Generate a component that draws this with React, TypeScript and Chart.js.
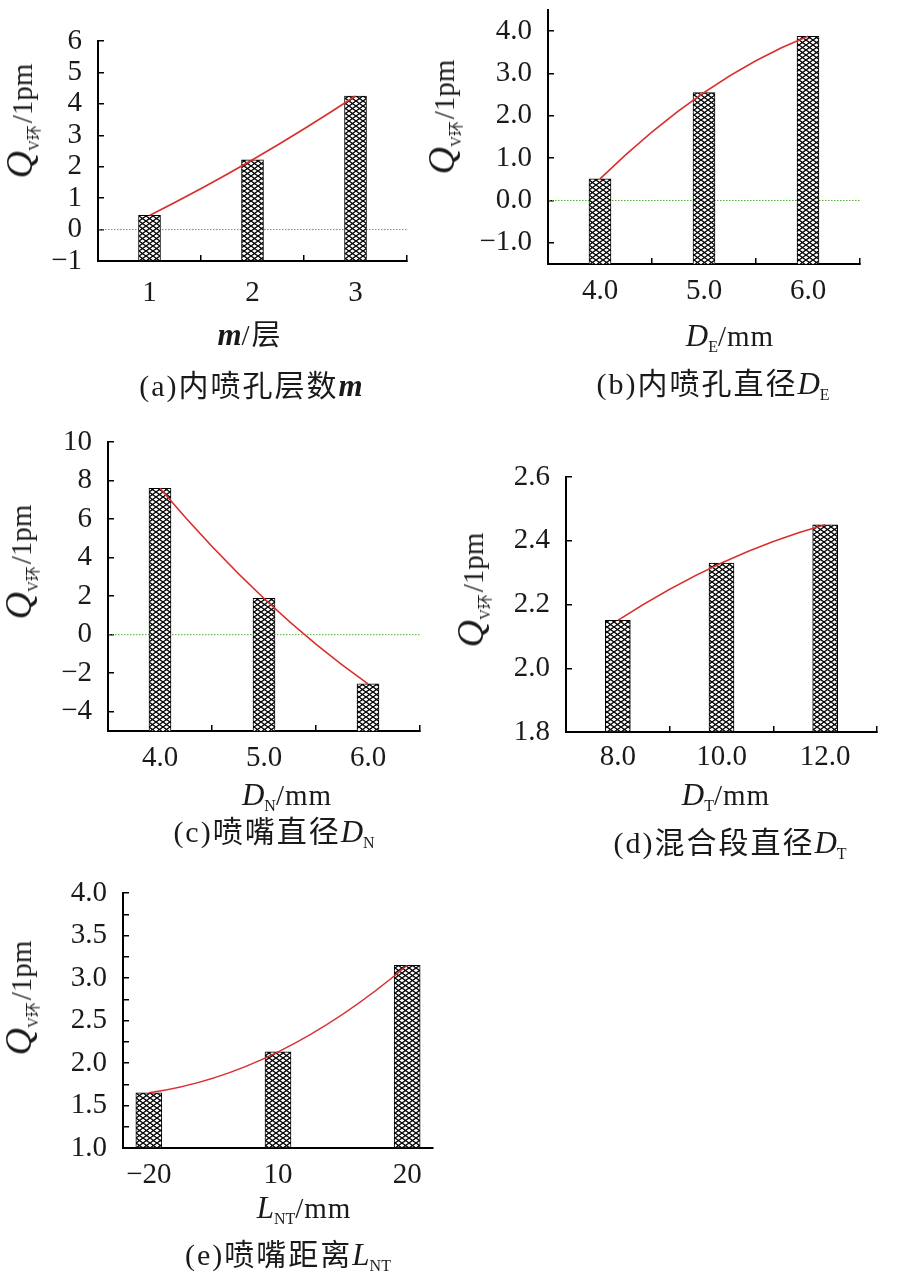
import React, { useEffect, useRef } from 'react';
import { Chart, registerables } from 'chart.js';

Chart.register(...registerables);

// ---------- data ----------
const aCategories = ['1', '2', '3'];
const aValues = [0.45, 2.22, 4.25];
const aTicks = [-1, 0, 1, 2, 3, 4, 5, 6];

const bCategories = ['4.0', '5.0', '6.0'];
const bValues = [0.51, 2.55, 3.88];
const bTicks = [-1, 0, 1, 2, 3, 4];

const cCategories = ['4.0', '5.0', '6.0'];
const cValues = [7.6, 1.88, -2.55];
const cTicks = [-4, -2, 0, 2, 4, 6, 8, 10];

const dCategories = ['8.0', '10.0', '12.0'];
const dValues = [2.15, 2.33, 2.45];
const dTicks = [1.8, 2.0, 2.2, 2.4, 2.6];

const eCategories = ['−20', '10', '20'];
const eValues = [1.65, 2.13, 3.15];
const eTicks = [1.0, 1.25, 1.5, 1.75, 2.0, 2.25, 2.5, 2.75, 3.0, 3.25, 3.5, 3.75, 4.0];
const eLabelledTicks = [1.0, 1.5, 2.0, 2.5, 3.0, 3.5, 4.0];

// ---------- layout constants ----------
const YW = 85;
const PT = 45;
const PR = 45;
const XH = 60;
const FS = 29;
const SERIF = "'Liberation Serif', 'Times New Roman', serif";
const MIX = "'Liberation Serif', 'Noto Sans CJK SC', serif";
const TXT = '#1a1a1a';

type Box = { l: number; r: number; t: number; b: number };
type Spec = {
  labels: string[];
  values: number[];
  ticks: number[];
  labelled: number[];
  min: number;
  max: number;
  decimals: number;
  box: Box;
  barThickness: number;
  xPad: number;
  zero: boolean;
  linearX?: { min: number; max: number };
};

const specs: Spec[] = [
  { labels: aCategories, values: aValues, ticks: aTicks, labelled: aTicks, min: -1, max: 6, decimals: 0,
    box: { l: 98, r: 407, t: 41, b: 261 }, barThickness: 22, xPad: 21, zero: true },
  { labels: bCategories, values: bValues, ticks: bTicks, labelled: bTicks, min: -1.5, max: 4.5, decimals: 1,
    box: { l: 548, r: 860, t: 10, b: 264 }, barThickness: 22, xPad: 16, zero: true },
  { labels: cCategories, values: cValues, ticks: cTicks, labelled: cTicks, min: -5, max: 10, decimals: 0,
    box: { l: 108, r: 420, t: 442, b: 731 }, barThickness: 22, xPad: 16, zero: true },
  { labels: dCategories, values: dValues, ticks: dTicks, labelled: dTicks, min: 1.8, max: 2.6, decimals: 1,
    box: { l: 566, r: 877, t: 477, b: 732 }, barThickness: 25, xPad: 14, zero: false },
  { labels: eCategories, values: eValues, ticks: eTicks, labelled: eLabelledTicks, min: 1.0, max: 4.0, decimals: 1,
    box: { l: 123, r: 433, t: 893, b: 1148 }, barThickness: 26, xPad: 16, zero: false,
    linearX: { min: -0.2, max: 2.2 } },
];

function fmt(v: number, d: number) {
  return v.toFixed(d).replace('-', '−');
}

function makePattern(): CanvasPattern | string {
  const w = 7;
  const h = 5;
  const c = document.createElement('canvas');
  c.width = w;
  c.height = h;
  const g = c.getContext('2d');
  if (!g) return '#777';
  g.fillStyle = '#fff';
  g.fillRect(0, 0, w, h);
  g.strokeStyle = '#000';
  g.lineWidth = 1.3;
  g.beginPath();
  g.moveTo(0, 0);
  g.lineTo(w, h);
  g.moveTo(0, h);
  g.lineTo(w, 0);
  g.stroke();
  return g.createPattern(c, 'repeat') || '#777';
}

const zeroLinePlugin = {
  id: 'zeroLine',
  beforeDatasetsDraw(chart: any, _args: any, opts: any) {
    if (!opts || !opts.show) return;
    const y = chart.scales.y.getPixelForValue(0);
    const { left, right } = chart.chartArea;
    const ctx = chart.ctx;
    ctx.save();
    ctx.strokeStyle = '#4fae3c';
    ctx.lineWidth = 1;
    ctx.setLineDash([1.5, 1.5]);
    ctx.beginPath();
    ctx.moveTo(left + 1, y);
    ctx.lineTo(right, y);
    ctx.stroke();
    ctx.restore();
  },
};

// Smooth quadratic trend curve through the line dataset's points (positions from the library's scales)
const trendPlugin = {
  id: 'trend',
  afterDatasetsDraw(chart: any) {
    const meta = chart.getDatasetMeta(0);
    const pts = meta.data;
    if (!pts || pts.length < 3) return;
    const p0 = pts[0];
    const p1 = pts[1];
    const p2 = pts[2];
    const cx = 2 * p1.x - (p0.x + p2.x) / 2;
    const cy = 2 * p1.y - (p0.y + p2.y) / 2;
    const ctx = chart.ctx;
    ctx.save();
    ctx.strokeStyle = '#d8302c';
    ctx.lineWidth = 1.6;
    ctx.beginPath();
    ctx.moveTo(p0.x, p0.y);
    ctx.quadraticCurveTo(cx, cy, p2.x, p2.y);
    ctx.stroke();
    ctx.restore();
  },
};

function buildConfig(s: Spec, pattern: any): any {
  const linear = !!s.linearX;
  const pts: any = linear ? s.values.map((v, i) => ({ x: i, y: v })) : s.values;
  const tickFont = { family: SERIF, size: FS };
  const axisGrid = {
    display: true,
    offset: !linear,
    drawOnChartArea: false,
    drawTicks: true,
    tickLength: -6,
    color: linear ? 'rgba(0,0,0,0)' : '#000',
    lineWidth: 1.5,
  };
  const border = { display: true, color: '#000', width: 2 };
  const x: any = linear
    ? {
        type: 'linear',
        min: s.linearX!.min,
        max: s.linearX!.max,
        offset: false,
        afterBuildTicks: (sc: any) => {
          sc.ticks = s.labels.map((_, i) => ({ value: i }));
        },
        ticks: {
          callback: (v: any) => s.labels[Math.round(v)] ?? '',
          padding: s.xPad,
          font: tickFont,
          color: TXT,
          maxRotation: 0,
          autoSkip: false,
        },
        grid: axisGrid,
        border,
        afterFit: (sc: any) => {
          sc.height = XH;
        },
      }
    : {
        type: 'category',
        offset: true,
        ticks: { padding: s.xPad, font: tickFont, color: TXT, maxRotation: 0, autoSkip: false },
        grid: axisGrid,
        border,
        afterFit: (sc: any) => {
          sc.height = XH;
        },
      };
  return {
    type: 'bar',
    data: {
      labels: linear ? undefined : s.labels,
      datasets: [
        {
          type: 'line',
          data: pts,
          borderColor: '#d8302c',
          borderWidth: 1.6,
          pointRadius: 0,
          showLine: false,
          fill: false,
          order: 0,
        },
        {
          type: 'bar',
          data: pts,
          backgroundColor: pattern,
          borderColor: '#000',
          borderWidth: 1,
          barThickness: s.barThickness,
          base: s.min,
          order: 1,
        },
      ],
    },
    options: {
      responsive: false,
      animation: false,
      layout: { padding: { top: PT, right: PR, left: 0, bottom: 0 } },
      plugins: {
        legend: { display: false },
        tooltip: { enabled: false },
        zeroLine: { show: s.zero },
      },
      scales: {
        x,
        y: {
          type: 'linear',
          min: s.min,
          max: s.max,
          afterBuildTicks: (sc: any) => {
            sc.ticks = s.ticks.map((v) => ({ value: v }));
          },
          ticks: {
            callback: (v: any) =>
              s.labelled.some((t) => Math.abs(t - v) < 1e-9) ? fmt(v, s.decimals) : '',
            padding: 22,
            font: tickFont,
            color: TXT,
            autoSkip: false,
          },
          grid: {
            display: true,
            drawOnChartArea: false,
            drawTicks: true,
            tickLength: -6,
            color: '#000',
            lineWidth: 1.5,
          },
          border,
          afterFit: (sc: any) => {
            sc.width = YW;
          },
        },
      },
    },
    plugins: [zeroLinePlugin, trendPlugin],
  };
}

function Panel({ spec }: { spec: Spec }) {
  const ref = useRef<HTMLCanvasElement>(null);
  const { l, r, t, b } = spec.box;
  const w = YW + (r - l) + PR;
  const h = PT + (b - t) + XH;
  useEffect(() => {
    if (!ref.current) return;
    const chart = new Chart(ref.current, buildConfig(spec, makePattern()));
    return () => chart.destroy();
  }, []);
  return (
    <canvas
      ref={ref}
      width={w}
      height={h}
      style={{ position: 'absolute', left: l - YW, top: t - PT, width: w, height: h }}
    />
  );
}

function YTitle({ x, y }: { x: number; y: number }) {
  return (
    <div
      style={{
        position: 'absolute',
        left: x,
        top: y,
        transform: 'translate(-50%,-50%) rotate(-90deg)',
        whiteSpace: 'nowrap',
        fontFamily: MIX,
        fontSize: 29,
        lineHeight: '36px',
        color: TXT,
      }}
    >
      <span style={{ fontStyle: 'italic', fontSize: 38 }}>Q</span>
      <span style={{ fontSize: 15, position: 'relative', top: 7 }}>V环</span>
      <span style={{ marginLeft: 2 }}>/1pm</span>
    </div>
  );
}

function Centered({ x, y, children, size, spacing }: { x: number; y: number; children: any; size: number; spacing?: number }) {
  return (
    <div
      style={{
        position: 'absolute',
        left: x,
        top: y,
        transform: 'translate(-50%,-50%)',
        whiteSpace: 'nowrap',
        fontFamily: MIX,
        fontSize: size,
        lineHeight: '36px',
        letterSpacing: spacing ? spacing : 0,
        color: TXT,
      }}
    >
      {children}
    </div>
  );
}

function Sym({ main, sub, bold }: { main: string; sub?: string; bold?: boolean }) {
  return (
    <>
      <span style={{ fontStyle: 'italic', fontWeight: bold ? 'bold' : 'normal', fontSize: 31, letterSpacing: 0 }}>{main}</span>
      {sub ? <span style={{ fontSize: 16, position: 'relative', top: 6, letterSpacing: 0 }}>{sub}</span> : null}
    </>
  );
}

export default function App() {
  return (
    <div
      style={{
        position: 'absolute',
        left: 0,
        top: 0,
        width: 899,
        height: 1283,
        background: '#fff',
        overflow: 'hidden',
      }}
    >
      {specs.map((s, i) => (
        <Panel key={i} spec={s} />
      ))}

      <YTitle x={23} y={121} />
      <YTitle x={445} y={117} />
      <YTitle x={22} y={562} />
      <YTitle x={474} y={590} />
      <YTitle x={22} y={998} />

      <Centered x={250} y={335} size={29} spacing={2}>
        <Sym main="m" bold />/层
      </Centered>
      <Centered x={730} y={338} size={29} spacing={1}>
        <Sym main="D" sub="E" />/mm
      </Centered>
      <Centered x={287} y={797} size={29} spacing={1}>
        <Sym main="D" sub="N" />/mm
      </Centered>
      <Centered x={726} y={797} size={29} spacing={1}>
        <Sym main="D" sub="T" />/mm
      </Centered>
      <Centered x={304} y={1210} size={29} spacing={1}>
        <Sym main="L" sub="NT" />/mm
      </Centered>

      <Centered x={251} y={386} size={30} spacing={2}>
        (a)内喷孔层数<Sym main="m" bold />
      </Centered>
      <Centered x={713} y={386} size={30} spacing={2}>
        (b)内喷孔直径<Sym main="D" sub="E" />
      </Centered>
      <Centered x={274} y={834} size={30} spacing={2}>
        (c)喷嘴直径<Sym main="D" sub="N" />
      </Centered>
      <Centered x={730} y={845} size={30} spacing={2}>
        (d)混合段直径<Sym main="D" sub="T" />
      </Centered>
      <Centered x={288} y={1257} size={30} spacing={2}>
        (e)喷嘴距离<Sym main="L" sub="NT" />
      </Centered>
    </div>
  );
}
